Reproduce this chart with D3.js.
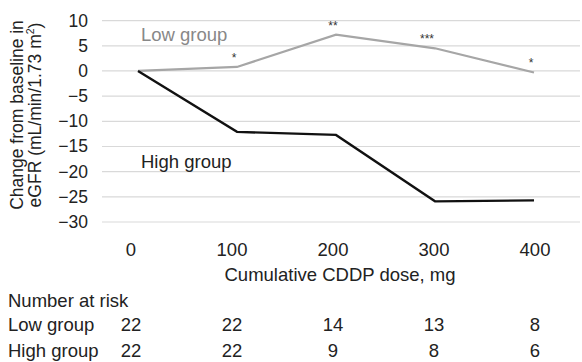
<!DOCTYPE html>
<html>
<head>
<meta charset="utf-8">
<script src="https://cdn.jsdelivr.net/npm/d3@7"></script>
<style>
  html, body { margin: 0; padding: 0; background: #fff; }
  svg { display: block; }
  text { font-family: 'Liberation Sans', Arial, Helvetica, sans-serif; }
</style>
</head>
<body>
<div id="chart"></div>
<script>
const DOSES = [0, 100, 200, 300, 400]
const LOW_GROUP = [0, 0.8, 7.2, 4.5, -0.3]
const HIGH_GROUP = [0, -12.1, -12.7, -25.9, -25.7]
const Y_TICKS = [10, 5, 0, -5, -10, -15, -20, -25, -30]
const SIG_MARKS = ['', '*', '**', '***', '*']
const RISK_LOW = [22, 22, 14, 13, 8]
const RISK_HIGH = [22, 22, 9, 8, 6]

const W = 582, H = 362
const FONT = 18.5
const SMALL_FONT = 17.5
const INK = '#222'

const svg = d3.select('#chart').append('svg')
  .attr('width', W).attr('height', H)

// points sit slightly inside the tick-label columns, as in the source figure
const x = d3.scaleLinear().domain([0, 400]).range([138, 534])
const xLab = d3.scaleLinear().domain([0, 400]).range([131, 535])
const y = d3.scaleLinear().domain([-30, 10]).range([222, 20.6])

// gridlines
svg.append('g')
  .selectAll('line')
  .data(Y_TICKS)
  .join('line')
  .attr('x1', 102).attr('x2', 580)
  .attr('y1', d => y(d)).attr('y2', d => y(d))
  .attr('stroke', '#d9d9d9')
  .attr('stroke-width', 1.2)

// y tick labels
svg.append('g')
  .selectAll('text')
  .data(Y_TICKS)
  .join('text')
  .attr('x', 88)
  .attr('y', d => y(d))
  .attr('text-anchor', 'end')
  .attr('dominant-baseline', 'central')
  .attr('font-size', SMALL_FONT)
  .attr('fill', INK)
  .text(d => d < 0 ? '\u2212' + Math.abs(d) : d)

// y axis title (two lines)
const yTitle = svg.append('text')
  .attr('transform', 'translate(0,115) rotate(-90)')
  .attr('text-anchor', 'middle')
  .attr('font-size', SMALL_FONT)
  .attr('fill', INK)
yTitle.append('tspan').attr('x', 0).attr('y', 23).text('Change from baseline in')
const l2 = yTitle.append('tspan').attr('x', 0).attr('y', 41)
l2.append('tspan').text('eGFR (mL/min/1.73 m')
l2.append('tspan').attr('font-size', 10.5).attr('dy', -7).text('2')
l2.append('tspan').attr('dy', 7).text(')')

// lines
const line = d3.line()
  .x((d, i) => x(DOSES[i]))
  .y(d => y(d))

svg.append('path')
  .datum(LOW_GROUP)
  .attr('fill', 'none')
  .attr('stroke', '#a6a6a6')
  .attr('stroke-width', 2.2)
  .attr('d', line)

svg.append('path')
  .datum(HIGH_GROUP)
  .attr('fill', 'none')
  .attr('stroke', '#111')
  .attr('stroke-width', 2.4)
  .attr('d', line)

// series labels
svg.append('text')
  .attr('x', 141).attr('y', 41)
  .attr('font-size', FONT)
  .attr('fill', '#888')
  .text('Low group')

svg.append('text')
  .attr('x', 141).attr('y', 168)
  .attr('font-size', FONT)
  .attr('fill', INK)
  .text('High group')

// significance marks above the low-group points
svg.append('g')
  .selectAll('text')
  .data(SIG_MARKS)
  .join('text')
  .attr('x', (d, i) => x(DOSES[i]) - 3 - (d.length > 2 ? 5 : 0))
  .attr('y', (d, i) => y(LOW_GROUP[i]) - 5)
  .attr('text-anchor', 'middle')
  .attr('font-size', 12)
  .attr('fill', '#333')
  .text(d => d)

// x tick labels
svg.append('g')
  .selectAll('text')
  .data(DOSES)
  .join('text')
  .attr('x', d => xLab(d))
  .attr('y', 255.5)
  .attr('text-anchor', 'middle')
  .attr('font-size', FONT)
  .attr('fill', INK)
  .text(d => d)

svg.append('text')
  .attr('x', 340).attr('y', 281)
  .attr('text-anchor', 'middle')
  .attr('font-size', FONT)
  .attr('fill', INK)
  .text('Cumulative CDDP dose, mg')

// number at risk table
svg.append('text')
  .attr('x', 8).attr('y', 306.5)
  .attr('font-size', FONT)
  .attr('fill', INK)
  .text('Number at risk')

const rows = [['Low group', RISK_LOW, 331], ['High group', RISK_HIGH, 356.5]]
rows.forEach(([name, vals, ry]) => {
  svg.append('text')
    .attr('x', 8).attr('y', ry)
    .attr('font-size', FONT)
    .attr('fill', INK)
    .text(name)
  svg.append('g')
    .selectAll('text')
    .data(vals)
    .join('text')
    .attr('x', (d, i) => xLab(DOSES[i]))
    .attr('y', ry)
    .attr('text-anchor', 'middle')
    .attr('font-size', FONT)
    .attr('fill', INK)
    .text(d => d)
})
</script>
</body>
</html>
